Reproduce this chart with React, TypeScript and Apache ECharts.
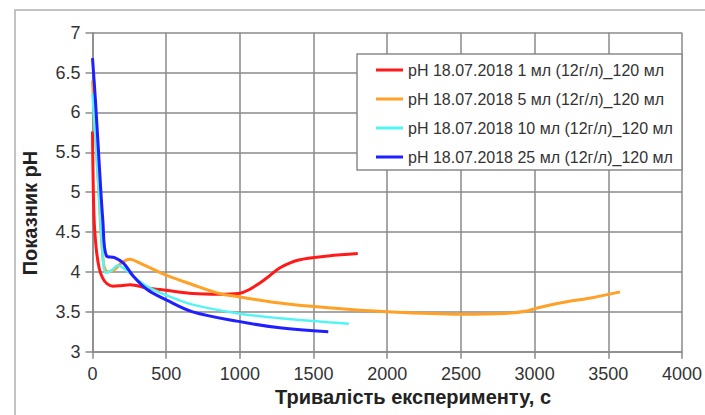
import React, { useEffect, useRef } from "react";
import * as echarts from "echarts";

const seriesNames = [
  "pH 18.07.2018 1 мл (12г/л)_120 мл",
  "pH 18.07.2018 5 мл (12г/л)_120 мл",
  "pH 18.07.2018 10 мл (12г/л)_120 мл",
  "pH 18.07.2018 25 мл (12г/л)_120 мл",
];
const seriesColors = ["#ff1a1a", "#ffa126", "#55f4f4", "#1f1fff"];

const red1: [number, number][] = [
  [0, 5.76], [10, 4.7], [25, 4.3], [45, 4.05], [70, 3.92], [100, 3.85], [140, 3.82],
  [200, 3.83], [255, 3.84], [370, 3.8], [500, 3.77], [680, 3.73], [860, 3.72],
  [990, 3.73], [1065, 3.78], [1180, 3.92], [1270, 4.05], [1400, 4.15], [1600, 4.2], [1800, 4.23],
];
const orange5: [number, number][] = [
  [0, 6.4], [40, 5.1], [75, 4.1], [105, 4.0], [150, 4.03], [200, 4.12], [255, 4.16],
  [300, 4.13], [370, 4.07], [500, 3.96], [680, 3.84], [860, 3.73], [990, 3.69],
  [1270, 3.61], [1600, 3.55], [2000, 3.5], [2500, 3.47], [2800, 3.48], [2950, 3.51],
  [3000, 3.54], [3200, 3.62], [3400, 3.68], [3580, 3.75],
];
const cyan10: [number, number][] = [
  [0, 6.24], [40, 5.1], [70, 4.2], [90, 3.99], [130, 4.02], [170, 4.08], [210, 4.05],
  [280, 3.94], [370, 3.82], [500, 3.71], [680, 3.59], [990, 3.48], [1270, 3.42],
  [1600, 3.37], [1740, 3.35],
];
const blue25: [number, number][] = [
  [0, 6.68], [20, 6.15], [41, 5.5], [70, 4.65], [95, 4.2], [150, 4.18], [210, 4.11],
  [280, 3.94], [370, 3.78], [500, 3.65], [680, 3.5], [990, 3.38], [1270, 3.3], [1600, 3.25],
];
const allData = [red1, orange5, cyan10, blue25];

const FONT = "'Liberation Sans', Arial, sans-serif";

export default function App() {
  const ref = useRef<HTMLDivElement>(null);
  useEffect(() => {
    if (!ref.current) return;
    const chart = echarts.init(ref.current, null, { renderer: "svg" });
    const gridColor = "#8a8a8a";
    chart.setOption({
      animation: false,
      backgroundColor: "#ffffff",
      grid: { left: 92.5, right: 23, top: 32.7, bottom: 63.3, containLabel: false },
      xAxis: {
        type: "value",
        min: 0,
        max: 4000,
        interval: 500,
        axisLine: { show: true, lineStyle: { color: gridColor, width: 1.5 } },
        axisTick: { show: true, length: 7, lineStyle: { color: gridColor, width: 1.5 } },
        splitLine: { show: true, lineStyle: { color: gridColor, width: 1.5 } },
        axisLabel: {
          color: "#333",
          fontSize: 18,
          fontFamily: FONT,
          margin: 13,
          formatter: (v: number) => String(v),
        },
      },
      yAxis: {
        type: "value",
        min: 3,
        max: 7,
        interval: 0.5,
        axisLine: { show: true, lineStyle: { color: gridColor, width: 1.5 } },
        axisTick: { show: true, length: 7, lineStyle: { color: gridColor, width: 1.5 } },
        splitLine: { show: true, lineStyle: { color: gridColor, width: 1.5 } },
        axisLabel: {
          color: "#333",
          fontSize: 18,
          fontFamily: FONT,
          margin: 12,
          formatter: (v: number) => String(v),
        },
      },
      legend: {
        orient: "vertical",
        left: 376,
        top: 62,
        z: 10,
        padding: 0,
        itemWidth: 27,
        itemHeight: 3,
        itemGap: 13,
        icon: "rect",
        textStyle: { color: "#333", fontSize: 16, fontFamily: FONT },
        data: seriesNames,
      },
      graphic: [
        {
          type: "rect",
          shape: { x: 15, y: 10, width: 720, height: 450 },
          style: { fill: "none", stroke: "#b0b0b0", lineWidth: 1.5 },
          silent: true,
          z: 0,
        },
        {
          type: "rect",
          shape: { x: 357, y: 54, width: 325, height: 116 },
          style: { fill: "#ffffff", stroke: "#8a8a8a", lineWidth: 1.5 },
          silent: true,
          z: 3,
        },
        {
          type: "text",
          x: 413,
          y: 397,
          style: {
            text: "Тривалість експерименту, с",
            fontSize: 20,
            fontWeight: "bold",
            fontFamily: FONT,
            fill: "#222",
            align: "center",
            verticalAlign: "middle",
          },
        },
        {
          type: "text",
          x: 30,
          y: 213,
          rotation: Math.PI / 2,
          style: {
            text: "Показник pH",
            fontSize: 20,
            fontWeight: "bold",
            fontFamily: FONT,
            fill: "#222",
            align: "center",
            verticalAlign: "middle",
          },
        },
      ],
      series: allData.map((d, i) => ({
        name: seriesNames[i],
        type: "line",
        data: d,
        smooth: 0.35,
        showSymbol: false,
        symbol: "none",
        color: seriesColors[i],
        lineStyle: { color: seriesColors[i], width: i === 2 ? 2.5 : 3 },
        z: 2,
      })),
    });
    return () => chart.dispose();
  }, []);
  return (
    <div
      ref={ref}
      style={{ position: "absolute", left: 0, top: 0, width: 705, height: 415 }}
    />
  );
}
